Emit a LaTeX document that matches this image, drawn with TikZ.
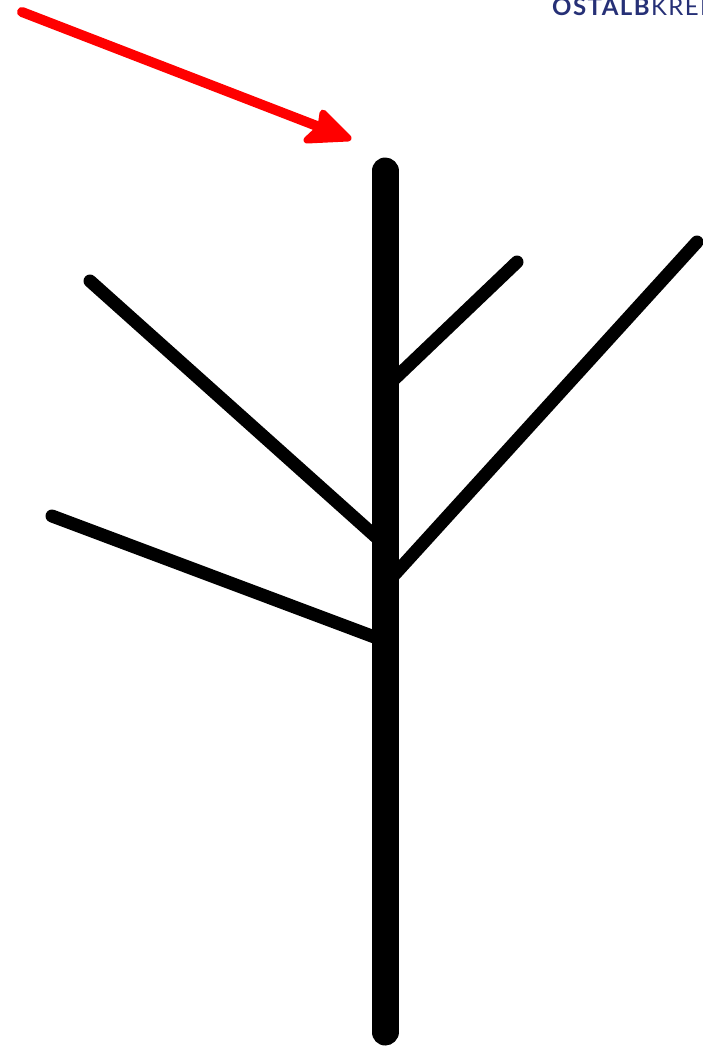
\documentclass[tikz,border=0pt]{standalone}
\usepackage{fontspec}
\setmainfont{Lato}
\definecolor{navy}{RGB}{38,48,118}
\definecolor{arrowred}{RGB}{255,0,0}
\tikzset{
  trunk/.style={line width=27pt, line cap=round},
  branch/.style={line width=13pt, line cap=round},
  pointer/.style={arrowred, line width=10pt, line cap=round, line join=round},
}
\begin{document}
\begin{tikzpicture}[x=1pt,y=-1pt]
\useasboundingbox (0,0) rectangle (703,1047);
\clip (0,0) rectangle (703,1047);
% coordinates
\coordinate (tTop) at (385,171);
\coordinate (tBot) at (385,1032);
\coordinate (b1s) at (517,262);  \coordinate (b1e) at (385,388);
\coordinate (b2s) at (90,281);   \coordinate (b2e) at (385,545);
\coordinate (b3s) at (697,242);  \coordinate (b3e) at (385,585);
\coordinate (b4s) at (52,516);   \coordinate (b4e) at (385,641);
% branches
\draw[branch] (b1s) -- (b1e);
\draw[branch] (b2s) -- (b2e);
\draw[branch] (b3s) -- (b3e);
\draw[branch] (b4s) -- (b4e);
% trunk
\draw[trunk] (tTop) -- (tBot);
% red arrow
\coordinate (aStart) at (22,12);
\coordinate (aTip) at (348,138);
\draw[pointer] (aStart) -- (335,133);
\filldraw[pointer, line width=7pt] (323,113) -- (aTip) -- (307,140) -- (321,127) -- cycle;
% logo text
\node[anchor=base west, inner sep=0pt, text=navy, font=\fontsize{24}{24}\selectfont\addfontfeature{LetterSpace=6}] (logo) at (552,15) {\textbf{OSTALB}KREIS};
\end{tikzpicture}
\end{document}
